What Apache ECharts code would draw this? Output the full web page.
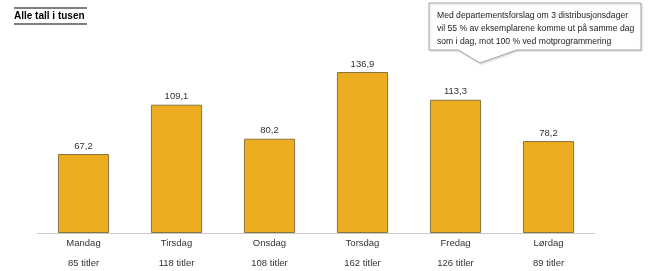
<!DOCTYPE html>
<html>
<head>
<meta charset="utf-8">
<script src="https://cdn.jsdelivr.net/npm/echarts@6/dist/echarts.min.js"></script>
<style>html,body{margin:0;padding:0;background:#fff}#c{width:651px;height:271px}</style>
</head>
<body>
<div id="c"></div>
<script>
const categories = ['Mandag', 'Tirsdag', 'Onsdag', 'Torsdag', 'Fredag', 'Lørdag'];
const titles = ['85 titler', '118 titler', '108 titler', '162 titler', '126 titler', '89 titler'];
const values = [67.2, 109.1, 80.2, 136.9, 113.3, 78.2];
const titleText = 'Alle tall i tusen';
const noteLines = [
  'Med departementsforslag om 3 distribusjonsdager',
  'vil 55 % av eksemplarene komme ut på samme dag',
  'som i dag, mot 100 % ved motprogrammering'
];

const chart = echarts.init(document.getElementById('c'), null, {renderer: 'canvas'});
const font = '"Liberation Sans", Arial, sans-serif';
chart.setOption({
  animation: false,
  grid: {left: 37, right: 56, top: 68.4, bottom: 38, containLabel: false, outerBoundsMode: 'none'},
  xAxis: {
    type: 'category',
    data: categories.map((c, i) => c + '\n' + titles[i]),
    axisLine: {lineStyle: {color: '#c8c8c8', width: 1}},
    axisTick: {show: false},
    axisLabel: {
      color: '#333', fontFamily: font, fontSize: 9.5, lineHeight: 20, margin: 0
    }
  },
  yAxis: {type: 'value', min: 0, max: 140, show: false, splitLine: {show: false}},
  series: [{
    type: 'bar',
    data: values,
    barWidth: '55%',
    itemStyle: {color: '#EBAC1F', borderColor: '#8a7440', borderWidth: 1},
    label: {
      show: true, position: 'top', distance: 3,
      color: '#333', fontFamily: font, fontSize: 9.5,
      formatter: p => String(p.value).replace('.', ',')
    }
  }],
  graphic: [
    {type: 'line', shape: {x1: 14, y1: 8, x2: 87, y2: 8}, style: {stroke: '#7f7f7f', lineWidth: 2}},
    {type: 'line', shape: {x1: 14, y1: 24, x2: 87, y2: 24}, style: {stroke: '#7f7f7f', lineWidth: 2}},
    {type: 'text', x: 14, y: 16, style: {text: titleText, font: 'bold 10px ' + font, fill: '#000', textVerticalAlign: 'middle'}},
    {type: 'polygon', shape: {points: [[429,3],[641,3],[641,50],[517,50],[480,63],[458,50],[429,50]]},
      style: {fill: '#fff', stroke: '#a6a6a6', lineWidth: 1, shadowColor: 'rgba(0,0,0,0.15)', shadowBlur: 2, shadowOffsetX: 1, shadowOffsetY: 1}},
    {type: 'text', x: 437, y: 8.5, style: {text: noteLines.join('\n'), font: '8.6px ' + font, lineHeight: 13.3, fill: '#222'}}
  ]
});
</script>
</body>
</html>
